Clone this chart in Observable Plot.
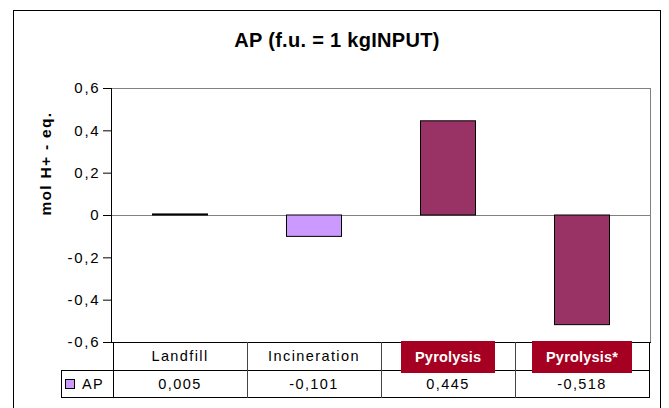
<!DOCTYPE html>
<html>
<head>
<meta charset="utf-8">
<script src="https://cdn.jsdelivr.net/npm/d3@7"></script>
<script src="https://cdn.jsdelivr.net/npm/@observablehq/plot@0.6"></script>
<style>
html,body{margin:0;padding:0;background:#fff;}
#wrap{position:relative;width:669px;height:408px;overflow:hidden;font-family:"Liberation Sans",Arial,sans-serif;color:#000;}
#outer{position:absolute;left:13px;top:10px;width:648px;height:420px;border:1px solid #000;box-sizing:border-box;}
#title{position:absolute;left:13px;width:648px;top:30px;line-height:20px;text-align:center;font-weight:bold;font-size:20px;letter-spacing:0.3px;white-space:nowrap;}
#wrap svg{position:absolute;left:0;top:0;}
g[aria-label="y-axis tick label"]{font-size:15px;}
g[aria-label="y-axis tick label"] text{letter-spacing:1.8px;}
g[aria-label="text"]{font-size:15.5px;font-weight:bold;}
g[aria-label="text"] text{letter-spacing:1.3px;}
.ln{position:absolute;background:#000;}
.cell{position:absolute;text-align:center;font-size:14.5px;letter-spacing:1.4px;white-space:nowrap;}
.tag{position:absolute;top:341px;height:32px;line-height:32px;background:#A50021;color:#fff;font-weight:bold;font-size:14.5px;letter-spacing:0.2px;padding:0 14px;white-space:nowrap;}
.key{position:absolute;width:10px;height:10px;border:1px solid #000;box-sizing:border-box;}
</style>
</head>
<body>
<div id="wrap"><div id="outer"></div><div id="title"></div></div>
<script>
const categories = ["Landfill", "Incineration", "Pyrolysis", "Pyrolysis*"];
const apValues = [0.005, -0.101, 0.445, -0.518];
const barColors = ["#993366", "#CC99FF", "#993366", "#993366"];
const tagged = [false, false, true, true];
const yTicks = [-0.6, -0.4, -0.2, 0, 0.2, 0.4, 0.6];
const seriesName = "AP";
const seriesColor = "#CC99FF";
const titleText = "AP (f.u. = 1 kgINPUT)";
const yLabel = "mol H+ - eq.";

const comma = (v, n) => v.toFixed(n).replace(".", ",");
const tickFmt = d => d === 0 ? "0" : comma(d, 1);

const data = categories.map((c, i) => ({category: c, value: apValues[i], color: barColors[i]}));

const chart = Plot.plot({
  width: 669, height: 408,
  marginLeft: 111, marginRight: 19, marginTop: 88, marginBottom: 66,
  style: {fontFamily: '"Liberation Sans", Arial, sans-serif', fontSize: "14px", background: "transparent", overflow: "visible"},
  x: {type: "band", domain: categories, padding: 0, axis: null},
  y: {domain: [-0.6, 0.6], axis: null},
  color: {type: "identity"},
  marks: [
    Plot.frame({stroke: "#808080"}),
    Plot.ruleY([0], {stroke: "#808080"}),
    Plot.barY(data, {x: "category", y: "value", fill: "color", stroke: "#000", insetLeft: 39.5, insetRight: 39.5}),
    Plot.frame({anchor: "left", stroke: "#000"}),
    Plot.frame({anchor: "bottom", stroke: "#000"}),
    Plot.axisY(yTicks, {tickFormat: tickFmt, tickSize: 8, tickPadding: 3, fontSize: 15, label: null, stroke: "#000"}),
    Plot.text([yLabel], {frameAnchor: "left", rotate: -90, dx: -65.5, fontWeight: "bold", fontSize: 15.5})
  ]
});

const wrap = document.getElementById("wrap");
wrap.appendChild(chart);
document.getElementById("title").textContent = titleText;

const xs = chart.scale("x");
const ys = chart.scale("y");
const bw = xs.bandwidth;
const colL = categories.map(c => xs.apply(c));
const plotLeft = Math.round(colL[0]);
const plotRight = Math.round(colL[colL.length - 1] + bw);
const tableTop = Math.round(ys.apply(yTicks[0]));
const row1H = 28, row2H = 27;
const row2Top = tableTop + row1H;
const tableBottom = row2Top + row2H;
const legendLeft = 61;

function add(cls, css, text) {
  const d = document.createElement("div");
  d.className = cls;
  Object.assign(d.style, css);
  if (text != null) d.textContent = text;
  wrap.appendChild(d);
  return d;
}
// grid lines of the data table
add("ln", {left: legendLeft + "px", top: row2Top + "px", width: (plotRight - legendLeft + 1) + "px", height: "1px"});
add("ln", {left: legendLeft + "px", top: tableBottom + "px", width: (plotRight - legendLeft + 1) + "px", height: "1px"});
add("ln", {left: legendLeft + "px", top: row2Top + "px", width: "1px", height: (row2H + 1) + "px"});
add("ln", {left: plotLeft + "px", top: tableTop + "px", width: "1px", height: (tableBottom - tableTop + 1) + "px"});
categories.forEach((c, i) => {
  const xr = Math.round(colL[i] + bw);
  add("ln", {left: xr + "px", top: tableTop + "px", width: "1px", height: (tableBottom - tableTop + 1) + "px", background: i === categories.length - 1 ? "#000" : "#444"});
});
// category row
categories.forEach((c, i) => {
  if (tagged[i]) {
    const t = add("tag", {}, c);
    const w = t.offsetWidth;
    t.style.left = (colL[i] + bw / 2 - w / 2) + "px";
  } else {
    add("cell", {left: colL[i] + "px", width: bw + "px", top: tableTop + "px", height: row1H + "px", lineHeight: (row1H + 1) + "px"}, c);
  }
});
// value row
apValues.forEach((v, i) => {
  add("cell", {left: colL[i] + "px", width: bw + "px", top: row2Top + "px", height: row2H + "px", lineHeight: (row2H + 1) + "px"}, comma(v, 3));
});
// legend key
add("key", {left: "65px", top: (row2Top + 9) + "px", background: seriesColor});
add("cell", {left: "82px", top: row2Top + "px", height: row2H + "px", lineHeight: (row2H + 1) + "px", textAlign: "left"}, seriesName);
</script>
</body>
</html>
